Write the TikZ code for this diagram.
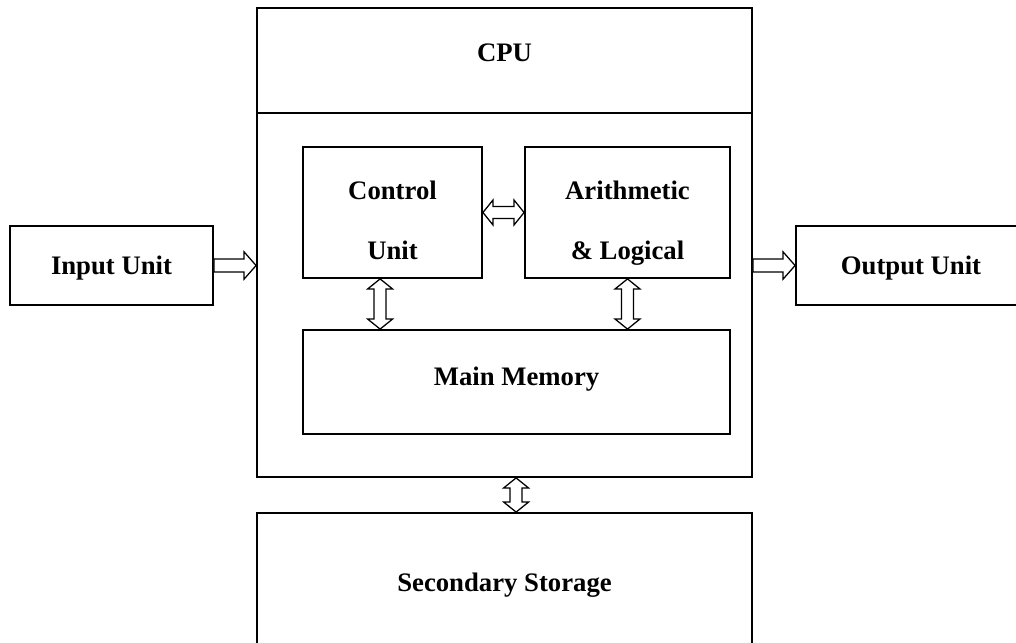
\documentclass[tikz,border=0pt]{standalone}
\usepackage{fontspec}
\setmainfont{Liberation Serif}
\usetikzlibrary{calc}

\tikzset{
  unit/.style={draw, line width=1.3pt, inner sep=0pt, align=center,
    text height=4.5mm, text depth=0mm,
    font=\bfseries\fontsize{19}{42.5}\selectfont},
  twoline/.style={text height=23.25mm, text depth=0mm},
  % hollow block arrow, tail at start, head at target
  fat arrow/.style={draw, line width=0.9pt, fill=white, to path={
    let \p1=(\tikztostart), \p2=(\tikztotarget), \n1={atan2(\y2-\y1,\x2-\x1)} in
    ($(\p1)+(\n1+90:1.6mm)$) -- ($(\p2)+(\n1+180:3mm)+(\n1+90:1.6mm)$)
    -- ($(\p2)+(\n1+180:3mm)+(\n1+90:3.4mm)$) -- (\p2)
    -- ($(\p2)+(\n1+180:3mm)+(\n1-90:3.4mm)$) -- ($(\p2)+(\n1+180:3mm)+(\n1-90:1.6mm)$)
    -- ($(\p1)+(\n1-90:1.6mm)$) -- cycle}},
  % hollow block arrow with heads at both ends
  fat double/.style={draw, line width=0.9pt, fill=white, to path={
    let \p1=(\tikztostart), \p2=(\tikztotarget), \n1={atan2(\y2-\y1,\x2-\x1)} in
    (\p1) -- ($(\p1)+(\n1:2.5mm)+(\n1+90:3.1mm)$) -- ($(\p1)+(\n1:2.5mm)+(\n1+90:1.5mm)$)
    -- ($(\p2)+(\n1+180:2.5mm)+(\n1+90:1.5mm)$) -- ($(\p2)+(\n1+180:2.5mm)+(\n1+90:3.1mm)$)
    -- (\p2)
    -- ($(\p2)+(\n1+180:2.5mm)+(\n1-90:3.1mm)$) -- ($(\p2)+(\n1+180:2.5mm)+(\n1-90:1.5mm)$)
    -- ($(\p1)+(\n1:2.5mm)+(\n1-90:1.5mm)$) -- ($(\p1)+(\n1:2.5mm)+(\n1-90:3.1mm)$)
    -- cycle}}
}

\begin{document}
\begin{tikzpicture}[x=0.25mm, y=-0.25mm]
  \useasboundingbox (0,0) rectangle (1016,642);
  \clip (0,0) rectangle (1016,642);

  % CPU with its header
  \node[unit, minimum width=123.75mm, minimum height=117.25mm] (cpu) at (504.5,242.5) {};
  \node[unit, minimum width=123.75mm, minimum height=26.25mm, text depth=4mm] (head) at (504.5,60.5) {CPU};
  \node[unit, twoline, minimum width=44.75mm, minimum height=32.75mm] (ctrl) at (392.5,212.5) {Control\\Unit};
  \node[unit, twoline, minimum width=51.25mm, minimum height=32.75mm] (alu) at (627.5,212.5) {Arithmetic\\\& Logical};
  \node[unit, minimum width=106.75mm, minimum height=26mm, text depth=3mm] (mem) at (516.5,382) {Main Memory};

  % outside units
  \node[unit, minimum width=50.75mm, minimum height=19.75mm] (inp) at (111.5,265.5) {Input Unit};
  \node[unit, minimum width=57.5mm, minimum height=19.75mm] (out) at (911,265.5) {Output Unit};
  \node[unit, minimum width=123.75mm, minimum height=34.5mm] (sec) at (504.5,582) {Secondary Storage};

  % data paths
  \draw[fat arrow] (inp.east) to (inp.east -| cpu.west);
  \draw[fat arrow] (out.west -| cpu.east) to (out.west);
  \draw[fat double] (ctrl.east) to (alu.west);
  \draw[fat double] ([xshift=-3.1mm]ctrl.south) to ([xshift=-3.1mm]ctrl.south |- mem.north);
  \draw[fat double] (alu.south) to (alu.south |- mem.north);
  \draw[fat double] ([xshift=2.9mm]cpu.south) to ([xshift=2.9mm]cpu.south |- sec.north);
\end{tikzpicture}
\end{document}
